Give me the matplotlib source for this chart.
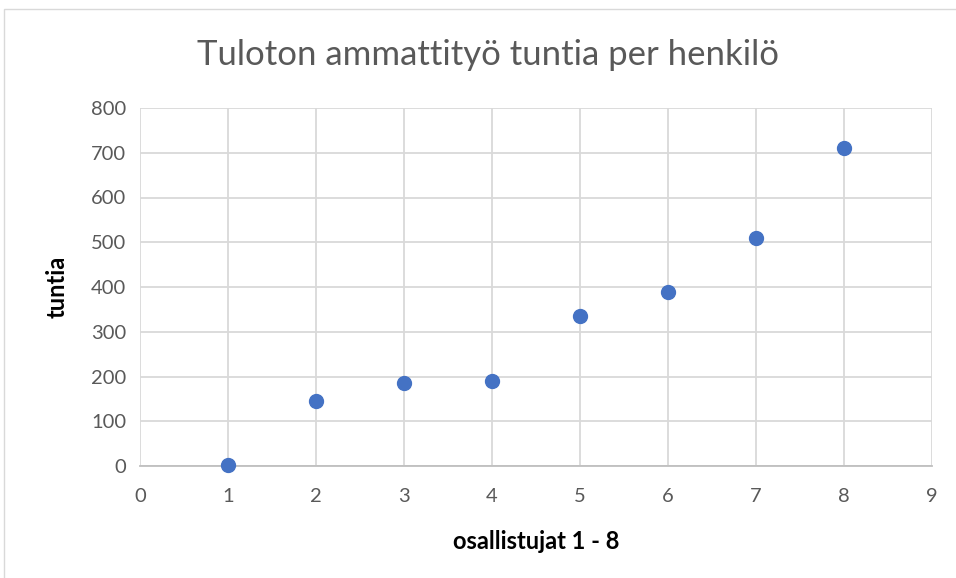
import matplotlib.pyplot as plt
from matplotlib.patches import Rectangle

# data
participants = [1, 2, 3, 4, 5, 6, 7, 8]
hours = [3, 146, 185, 191, 335, 388, 509, 711]
x_ticks = list(range(0, 10))
y_ticks = list(range(0, 900, 100))

plt.rcParams['font.family'] = ['Lato', 'DejaVu Sans']

W, H = 956, 578
fig = plt.figure(figsize=(W / 100, H / 100), dpi=100)
ax = fig.add_axes([140 / W, 1 - 466 / H, (932 - 140) / W, (466 - 108) / H])

ax.plot(participants, hours, 'o', color='#4472C4', markersize=10, zorder=3,
        clip_on=False)

ax.set_xlim(0, 9)
ax.set_ylim(0, 800)
ax.set_xticks(x_ticks)
ax.set_yticks(y_ticks)
ax.grid(True, color='#d9d9d9', linewidth=1.3)
ax.set_axisbelow(True)
for side in ['top', 'right', 'left']:
    ax.spines[side].set_visible(False)
ax.spines['bottom'].set_color('#bfbfbf')
ax.spines['bottom'].set_linewidth(1.3)
ax.tick_params(length=0, labelsize=14.5, labelcolor='#595959', pad=10)
ax.tick_params(axis='x', pad=16)

ax.set_xlabel('osallistujat 1 - 8', fontsize=17, fontweight='bold', labelpad=18)
ax.set_ylabel('tuntia', fontsize=17, fontweight='bold', labelpad=16)
fig.text(488 / W, 1 - 55 / H, 'Tuloton ammattityö tuntia per henkilö',
         ha='center', va='center', fontsize=25, color='#595959')

# chart border (cropped at right and bottom)
fig.patches.append(Rectangle((4 / W, -0.1), 1.2, 1 - 9 / H + 0.1,
                             transform=fig.transFigure, fill=False,
                             edgecolor='#d9d9d9', linewidth=1))

fig.savefig('out.png', dpi=100)
